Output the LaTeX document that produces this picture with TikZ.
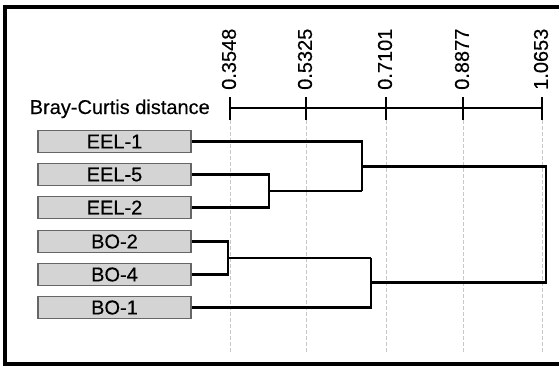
\documentclass[tikz,border=0pt]{standalone}
\usepackage{fontspec}
\setmainfont{Liberation Sans}
\newfontfamily\labfont[FakeBold=0.35]{Liberation Sans}
\begin{document}
\begin{tikzpicture}[x=1pt,y=-1pt,
  lbl/.style={font=\labfont\fontsize{20}{22}\selectfont},
  sample/.style={draw=black!60, line width=1.2pt, fill=black!17, minimum width=153pt, minimum height=22pt, inner sep=0pt, lbl},
  tree/.style={line width=2.8pt, line join=miter},
  tickv/.style={rotate=90, anchor=west, inner sep=0pt, lbl},
  gridl/.style={draw=black!22, line width=0.8pt, dash pattern=on 4pt off 2pt}]
\useasboundingbox (0,0) rectangle (559,367);
% frame
\draw[line width=3.2pt] (560,7) -- (5,7) -- (5,364) -- (560,364);
% axis
\coordinate (a0) at (230,108);
\coordinate (a1) at (306,108);
\coordinate (a2) at (386,108);
\coordinate (a3) at (463,108);
\coordinate (a4) at (542,108);
\foreach \c in {a0,a1,a2,a3,a4}{
  \draw[gridl] ([yshift=-12pt]\c) -- ([yshift=-244pt]\c);
  \draw[line width=2.6pt] ([yshift=11pt]\c) -- ([yshift=-12pt]\c);
}
\draw[line width=2.6pt] (a0) -- (a4);
\node[tickv] (t0) at (229,90) {0.3548};
\node[tickv] (t1) at (305,90) {0.5325};
\node[tickv] (t2) at (385,90) {0.7101};
\node[tickv] (t3) at (462,90) {0.8877};
\node[tickv] (t4) at (541,90) {1.0653};
\node[lbl, anchor=base east, inner sep=0pt] (title) at (210,114) {Bray-Curtis distance};
% samples
\node[sample] (e1) at (114.5,141.5) {EEL-1};
\node[sample] (e5) at (114.5,174.5) {EEL-5};
\node[sample] (e2) at (114.5,207.5) {EEL-2};
\node[sample] (b2) at (114.5,241.5) {BO-2};
\node[sample] (b4) at (114.5,274.5) {BO-4};
\node[sample] (b1) at (114.5,307.5) {BO-1};
% merge points
\coordinate (m52) at (269,191);
\coordinate (me) at (362,166.5);
\coordinate (m24) at (228,258);
\coordinate (mb) at (371,282.5);
\coordinate (root) at (546,224.5);
% tree
\draw[tree] (e5.east) -| (m52) |- (e2.east);
\draw[tree] (m52) -- (m52 -| me);
\draw[tree] (e1.east) -| (me) |- (m52 -| me);
\draw[tree] (b2.east) -| (m24) |- (b4.east);
\draw[tree] (m24) -- (m24 -| mb);
\draw[tree] (b1.east) -| (mb) |- (m24 -| mb);
\draw[tree] (me) -| (root) |- (mb);
\end{tikzpicture}
\end{document}
